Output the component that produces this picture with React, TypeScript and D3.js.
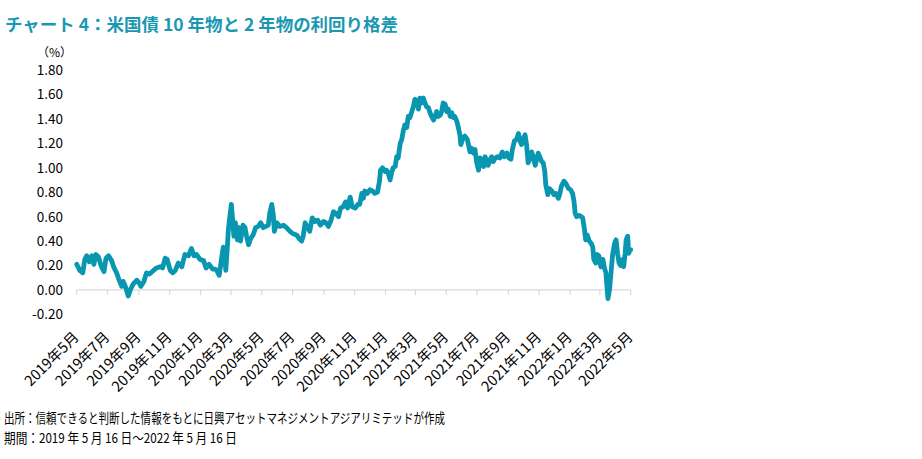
import React from "react";
import * as d3 from "d3";

const titleText = "チャート 4：米国債 10 年物と 2 年物の利回り格差";
const unitLabel = "（%）";
const sourceText = "出所：信頼できると判断した情報をもとに日興アセットマネジメントアジアリミテッドが作成";
const periodText = "期間：2019 年 5 月 16 日～2022 年 5 月 16 日";

const yTicks = [-0.2, 0, 0.2, 0.4, 0.6, 0.8, 1.0, 1.2, 1.4, 1.6, 1.8];

const xTickDates = [
  "2019-05-16", "2019-07-16", "2019-09-16", "2019-11-16",
  "2020-01-16", "2020-03-16", "2020-05-16", "2020-07-16", "2020-09-16", "2020-11-16",
  "2021-01-16", "2021-03-16", "2021-05-16", "2021-07-16", "2021-09-16", "2021-11-16",
  "2022-01-16", "2022-03-16", "2022-05-16",
];
const xTickLabels = [
  "2019年5月", "2019年7月", "2019年9月", "2019年11月",
  "2020年1月", "2020年3月", "2020年5月", "2020年7月", "2020年9月", "2020年11月",
  "2021年1月", "2021年3月", "2021年5月", "2021年7月", "2021年9月", "2021年11月",
  "2022年1月", "2022年3月", "2022年5月",
];

// US 10y - 2y spread (%)
const spreadSeries: [string, number][] = [
  ["2019-05-16", 0.21], ["2019-05-22", 0.16], ["2019-05-28", 0.14], ["2019-06-01", 0.25],
  ["2019-06-05", 0.28], ["2019-06-10", 0.23], ["2019-06-15", 0.28], ["2019-06-19", 0.21],
  ["2019-06-23", 0.29], ["2019-06-28", 0.27], ["2019-07-04", 0.19], ["2019-07-09", 0.15],
  ["2019-07-13", 0.26], ["2019-07-18", 0.28], ["2019-07-24", 0.24], ["2019-07-29", 0.18],
  ["2019-08-03", 0.14], ["2019-08-08", 0.08], ["2019-08-13", 0.03], ["2019-08-16", 0.07],
  ["2019-08-21", 0.02], ["2019-08-26", -0.05], ["2019-08-31", 0.01], ["2019-09-05", 0.05],
  ["2019-09-12", 0.08], ["2019-09-16", 0.06], ["2019-09-20", 0.03], ["2019-09-26", 0.07],
  ["2019-10-01", 0.14], ["2019-10-07", 0.13], ["2019-10-15", 0.16], ["2019-10-21", 0.18],
  ["2019-10-28", 0.19], ["2019-11-02", 0.18], ["2019-11-07", 0.26], ["2019-11-11", 0.25],
  ["2019-11-17", 0.16], ["2019-11-22", 0.14], ["2019-11-27", 0.16], ["2019-12-03", 0.22],
  ["2019-12-10", 0.19], ["2019-12-16", 0.29], ["2019-12-23", 0.28], ["2019-12-29", 0.34],
  ["2020-01-03", 0.28], ["2020-01-08", 0.29], ["2020-01-15", 0.25], ["2020-01-22", 0.24],
  ["2020-01-27", 0.18], ["2020-02-02", 0.21], ["2020-02-09", 0.17], ["2020-02-14", 0.17],
  ["2020-02-17", 0.16], ["2020-02-22", 0.12], ["2020-02-27", 0.27], ["2020-03-01", 0.35],
  ["2020-03-04", 0.27], ["2020-03-06", 0.16], ["2020-03-09", 0.35], ["2020-03-11", 0.49],
  ["2020-03-14", 0.6], ["2020-03-17", 0.7], ["2020-03-19", 0.6], ["2020-03-22", 0.44],
  ["2020-03-25", 0.55], ["2020-03-29", 0.41], ["2020-04-01", 0.51], ["2020-04-04", 0.4],
  ["2020-04-09", 0.53], ["2020-04-13", 0.51], ["2020-04-16", 0.44], ["2020-04-20", 0.37],
  ["2020-04-24", 0.42], ["2020-04-29", 0.45], ["2020-05-04", 0.51], ["2020-05-09", 0.52],
  ["2020-05-14", 0.55], ["2020-05-19", 0.51], ["2020-05-24", 0.52], ["2020-05-29", 0.53],
  ["2020-06-01", 0.63], ["2020-06-05", 0.7], ["2020-06-08", 0.61], ["2020-06-10", 0.48],
  ["2020-06-15", 0.55], ["2020-06-21", 0.52], ["2020-06-28", 0.53], ["2020-07-04", 0.51],
  ["2020-07-11", 0.48], ["2020-07-17", 0.46], ["2020-07-24", 0.45], ["2020-07-29", 0.42],
  ["2020-08-03", 0.4], ["2020-08-06", 0.44], ["2020-08-10", 0.55], ["2020-08-15", 0.51],
  ["2020-08-19", 0.48], ["2020-08-24", 0.59], ["2020-08-29", 0.56], ["2020-09-04", 0.57],
  ["2020-09-09", 0.53], ["2020-09-15", 0.56], ["2020-09-20", 0.55], ["2020-09-25", 0.52],
  ["2020-09-30", 0.57], ["2020-10-05", 0.64], ["2020-10-09", 0.63], ["2020-10-15", 0.6],
  ["2020-10-19", 0.67], ["2020-10-24", 0.68], ["2020-10-29", 0.72], ["2020-11-02", 0.67],
  ["2020-11-07", 0.76], ["2020-11-11", 0.68], ["2020-11-17", 0.67], ["2020-11-22", 0.7],
  ["2020-11-26", 0.7], ["2020-11-30", 0.79], ["2020-12-03", 0.75], ["2020-12-06", 0.81],
  ["2020-12-11", 0.79], ["2020-12-16", 0.82], ["2020-12-21", 0.81], ["2020-12-26", 0.79],
  ["2020-12-31", 0.8], ["2021-01-04", 0.89], ["2021-01-06", 0.98], ["2021-01-10", 1.0],
  ["2021-01-15", 0.97], ["2021-01-18", 0.98], ["2021-01-21", 0.96], ["2021-01-25", 0.9],
  ["2021-01-28", 0.96], ["2021-01-31", 1.0], ["2021-02-04", 1.01], ["2021-02-07", 1.09],
  ["2021-02-10", 1.08], ["2021-02-14", 1.2], ["2021-02-17", 1.23], ["2021-02-20", 1.3],
  ["2021-02-23", 1.35], ["2021-02-27", 1.33], ["2021-03-02", 1.42], ["2021-03-05", 1.41],
  ["2021-03-09", 1.46], ["2021-03-12", 1.5], ["2021-03-15", 1.56], ["2021-03-19", 1.55],
  ["2021-03-22", 1.48], ["2021-03-25", 1.57], ["2021-03-28", 1.53], ["2021-04-01", 1.57],
  ["2021-04-04", 1.53], ["2021-04-07", 1.5], ["2021-04-11", 1.49], ["2021-04-14", 1.45],
  ["2021-04-17", 1.42], ["2021-04-21", 1.39], ["2021-04-24", 1.42], ["2021-04-27", 1.46],
  ["2021-04-30", 1.42], ["2021-05-04", 1.43], ["2021-05-07", 1.46], ["2021-05-10", 1.53],
  ["2021-05-14", 1.52], ["2021-05-17", 1.46], ["2021-05-20", 1.48], ["2021-05-24", 1.42],
  ["2021-05-27", 1.45], ["2021-05-30", 1.41], ["2021-06-02", 1.42], ["2021-06-06", 1.38],
  ["2021-06-09", 1.33], ["2021-06-12", 1.27], ["2021-06-14", 1.19], ["2021-06-18", 1.24],
  ["2021-06-22", 1.26], ["2021-06-27", 1.23], ["2021-07-02", 1.13], ["2021-07-05", 1.16],
  ["2021-07-09", 1.12], ["2021-07-12", 1.15], ["2021-07-15", 1.05], ["2021-07-19", 0.98],
  ["2021-07-22", 1.08], ["2021-07-25", 1.07], ["2021-07-29", 1.01], ["2021-08-01", 1.09],
  ["2021-08-04", 1.05], ["2021-08-07", 1.02], ["2021-08-11", 1.07], ["2021-08-14", 1.09],
  ["2021-08-17", 1.05], ["2021-08-21", 1.08], ["2021-08-26", 1.09], ["2021-08-30", 1.08],
  ["2021-09-04", 1.13], ["2021-09-08", 1.09], ["2021-09-13", 1.12], ["2021-09-17", 1.08],
  ["2021-09-21", 1.07], ["2021-09-24", 1.15], ["2021-09-28", 1.22], ["2021-10-02", 1.23],
  ["2021-10-06", 1.28], ["2021-10-09", 1.22], ["2021-10-12", 1.19], ["2021-10-16", 1.24],
  ["2021-10-19", 1.27], ["2021-10-22", 1.19], ["2021-10-25", 1.04], ["2021-10-29", 1.08],
  ["2021-11-01", 1.13], ["2021-11-04", 1.09], ["2021-11-08", 1.02], ["2021-11-11", 1.07],
  ["2021-11-14", 1.12], ["2021-11-18", 1.08], ["2021-11-21", 1.05], ["2021-11-24", 1.04],
  ["2021-11-27", 0.97], ["2021-11-29", 0.86], ["2021-12-03", 0.78], ["2021-12-06", 0.83],
  ["2021-12-11", 0.81], ["2021-12-15", 0.78], ["2021-12-19", 0.79], ["2021-12-24", 0.75],
  ["2021-12-27", 0.79], ["2021-12-30", 0.85], ["2022-01-04", 0.89], ["2022-01-08", 0.87],
  ["2022-01-13", 0.83], ["2022-01-17", 0.82], ["2022-01-21", 0.79], ["2022-01-24", 0.72],
  ["2022-01-26", 0.63], ["2022-01-29", 0.6], ["2022-02-03", 0.61], ["2022-02-07", 0.6],
  ["2022-02-10", 0.59], ["2022-02-13", 0.51], ["2022-02-16", 0.41], ["2022-02-19", 0.45],
  ["2022-02-23", 0.4], ["2022-02-27", 0.38], ["2022-03-02", 0.35], ["2022-03-04", 0.25],
  ["2022-03-08", 0.22], ["2022-03-11", 0.29], ["2022-03-14", 0.28], ["2022-03-18", 0.19],
  ["2022-03-22", 0.25], ["2022-03-25", 0.18], ["2022-03-28", 0.14], ["2022-03-30", 0.03],
  ["2022-04-01", -0.07], ["2022-04-04", 0.0], ["2022-04-07", 0.14], ["2022-04-10", 0.28],
  ["2022-04-14", 0.38], ["2022-04-17", 0.41], ["2022-04-20", 0.3], ["2022-04-23", 0.22],
  ["2022-04-26", 0.2], ["2022-04-30", 0.25], ["2022-05-02", 0.19], ["2022-05-05", 0.3],
  ["2022-05-07", 0.41], ["2022-05-10", 0.44], ["2022-05-12", 0.3], ["2022-05-15", 0.33],
  ["2022-05-16", 0.33],
];

const W = 922;
const H = 459;
const TEAL = "#0996b0";
const FONT = "'Noto Sans CJK JP', 'Noto Sans', sans-serif";

export default function App() {
  const parse = d3.timeParse("%Y-%m-%d");
  const data = spreadSeries.map(([d, v]) => ({ date: parse(d) as Date, value: v }));
  const tickDates = xTickDates.map((d) => parse(d) as Date);

  const x = d3
    .scaleTime()
    .domain([tickDates[0], tickDates[tickDates.length - 1]])
    .range([76.7, 630.7]);
  const y = d3.scaleLinear().domain([-0.2, 1.8]).range([314.4, 70]);

  const line = d3
    .line<{ date: Date; value: number }>()
    .x((d) => x(d.date))
    .y((d) => y(d.value))
    .curve(d3.curveLinear);

  const axisY = y(0);

  return (
    <svg
      width={W}
      height={H}
      viewBox={`0 0 ${W} ${H}`}
      style={{ position: "absolute", left: 0, top: 0, background: "#fff" }}
      fontFamily={FONT}
    >
      <rect x={0} y={0} width={W} height={H} fill="#fff" />
      <text x={5} y={31} fontSize={17} fontWeight={700} fill="#1a98b2" textLength={393} lengthAdjust="spacingAndGlyphs">
        {titleText}
      </text>

      <text x={37} y={57} fontSize={12} fill="#000">
        {unitLabel}
      </text>

      {yTicks.map((t) => (
        <text key={t} x={63} y={y(t)} dy="0.36em" fontSize={13.5} textAnchor="end" fill="#000">
          {t.toFixed(2)}
        </text>
      ))}

      <line x1={x.range()[0]} x2={x.range()[1]} y1={axisY} y2={axisY} stroke="#d9d9d9" strokeWidth={1.2} />
      {tickDates.map((d, i) => (
        <line key={i} x1={x(d)} x2={x(d)} y1={axisY} y2={axisY + 5} stroke="#d9d9d9" strokeWidth={1.2} />
      ))}
      {tickDates.map((d, i) => (
        <text
          key={i}
          transform={`translate(${x(d) + 3},${338}) rotate(-45)`}
          textAnchor="end"
          fontSize={14.5}
          fill="#000"
        >
          {xTickLabels[i]}
        </text>
      ))}

      <path
        d={line(data) || ""}
        fill="none"
        stroke={TEAL}
        strokeWidth={4.8}
        strokeLinejoin="round"
        strokeLinecap="round"
      />

      <text x={4} y={423} fontSize={13.5} fill="#000" textLength={441} lengthAdjust="spacingAndGlyphs">
        {sourceText}
      </text>
      <text x={4} y={443} fontSize={13.5} fill="#000" textLength={233} lengthAdjust="spacingAndGlyphs">
        {periodText}
      </text>
    </svg>
  );
}
